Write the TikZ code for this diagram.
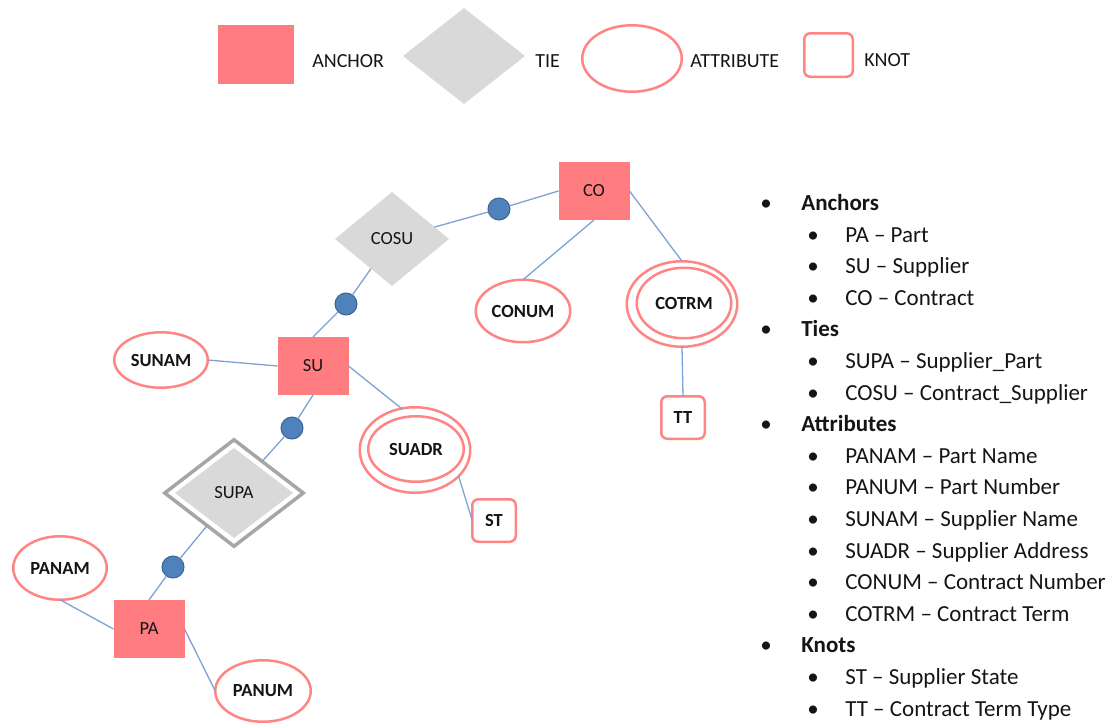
\documentclass[tikz,border=0pt]{standalone}
\usepackage{fontspec}
\setmainfont{Carlito}
\usetikzlibrary{shapes.geometric}
\definecolor{anchorfill}{HTML}{FF7C80}
\definecolor{tiefill}{HTML}{D9D9D9}
\definecolor{attrline}{HTML}{FF8585}
\definecolor{linkblue}{HTML}{7DA2D3}
\definecolor{dotblue}{HTML}{4F81BD}
\definecolor{dotedge}{HTML}{3B6592}
\definecolor{supagray}{HTML}{A6A6A6}
\definecolor{ink}{HTML}{151515}
\begin{document}
\begin{tikzpicture}[x=1pt,y=-1pt,
  every node/.style={outer sep=0pt,text=ink},
  lbl/.style={font=\fontsize{18.5}{20}\selectfont},
  blbl/.style={font=\bfseries\fontsize{18.5}{20}\selectfont},
  anchorbox/.style={rectangle,fill=anchorfill,minimum width=71pt,minimum height=58pt,inner sep=0pt,lbl},
  tiebox/.style={diamond,fill=tiefill,inner sep=0pt,lbl},
  attr/.style={ellipse,draw=attrline,line width=2.5pt,fill=white,inner sep=0pt,blbl},
  knotbox/.style={rectangle,rounded corners=6pt,draw=attrline,line width=2.5pt,fill=white,minimum width=43.5pt,minimum height=42.5pt,inner sep=0pt,blbl},
  link/.style={draw=linkblue,line width=1.3pt},
  dot/.style={circle,fill=dotblue,draw=dotedge,line width=1pt,minimum size=22pt,inner sep=0pt},
  legtext/.style={anchor=west,font=\fontsize{20}{22}\selectfont},
  head/.style={anchor=base west,font=\bfseries\fontsize{23}{25}\selectfont},
  item/.style={anchor=base west,font=\fontsize{23}{25}\selectfont},
  bul/.style={anchor=base,font=\fontsize{23}{25}\selectfont},
]
\useasboundingbox (0,0) rectangle (1114,723);

% ---------- legend ----------
\node[anchorbox,minimum width=76pt,minimum height=59pt] (lga) at (256,54.5) {};
\node[legtext] (lgat) at (309,61) {ANCHOR};
\node[tiebox,minimum width=122pt,minimum height=96pt] (lgt) at (464,56) {};
\node[legtext] (lgtt) at (532,61) {TIE};
\node[attr,minimum width=99.5pt,minimum height=66.5pt] (lge) at (632,58.5) {};
\node[legtext] (lget) at (687,61) {ATTRIBUTE};
\node[knotbox,minimum width=48.5pt,minimum height=43.5pt] (lgk) at (828.5,55) {};
\node[legtext] (lgkt) at (861,60) {KNOT};

% ---------- anchors ----------
\node[anchorbox] (co) at (594,191) {CO};
\node[anchorbox] (su) at (313,366) {SU};
\node[anchorbox] (pa) at (149,629) {PA};

% ---------- ties ----------
\node[tiebox,minimum width=114pt,minimum height=94pt] (cosu) at (392,239) {COSU};
\node[diamond,draw=supagray,line width=3.5pt,fill=white,inner sep=0pt,minimum width=138.5pt,minimum height=106.5pt] (supa) at (234,493) {};
\node[tiebox,minimum width=118pt,minimum height=90pt] (supai) at (234,493) {SUPA};

% ---------- attributes ----------
\node[attr,minimum width=94.5pt,minimum height=62.5pt] (conum) at (523,311) {CONUM};
\node[attr,minimum width=93.5pt,minimum height=55.5pt] (sunam) at (161,360) {SUNAM};
\node[attr,minimum width=93.5pt,minimum height=63.5pt] (panam) at (60,568) {PANAM};
\node[attr,minimum width=95.5pt,minimum height=61.5pt] (panum) at (263,691) {PANUM};
\node[attr,minimum width=110.5pt,minimum height=85.5pt] (cotrm) at (682,304) {};
\node[attr,minimum width=94.5pt,minimum height=70.5pt] (cotrmi) at (684,303) {COTRM};
\node[attr,minimum width=110.5pt,minimum height=85.5pt] (suadr) at (415,450) {};
\node[attr,minimum width=95.5pt,minimum height=65.5pt] (suadri) at (416,449) {SUADR};

% ---------- knots ----------
\node[knotbox] (tt) at (683,417.5) {TT};
\node[knotbox] (st) at (494,520.5) {ST};

% ---------- anchor dots ----------
\node[dot] (d1) at (499,209) {};
\node[dot] (d2) at (346,304) {};
\node[dot] (d3) at (292,428) {};
\node[dot] (d4) at (173,567) {};

% ---------- connectors ----------
\draw[link] (cosu) -- (d1) -- (co.west);
\draw[link] (cosu) -- (d2) -- (su.north);
\draw[link] (su.south) -- (d3) -- (supa);
\draw[link] (supa) -- (d4) -- (pa.north);
\draw[link] (co.south) -- (conum.north);
\draw[link] (co.east) -- (cotrm.north);
\draw[link] (cotrm.south) -- (tt.north);
\draw[link] (sunam.east) -- (su.west);
\draw[link] (su.east) -- (suadr.108);
\draw[link] (suadr.-31) -- (st.west);
\draw[link] (pa.west) -- (panam.south);
\draw[link] (pa.east) -- (panum.west);

% ---------- list ----------
\node[bul] (b1) at (766,210.5) {•};
\node[head] (t1) at (798,210.5) {Anchors};
\node[bul] (b2) at (813,242.1) {•};
\node[item] (t2) at (842,242.1) {PA – Part};
\node[bul] (b3) at (813,273.7) {•};
\node[item] (t3) at (842,273.7) {SU – Supplier};
\node[bul] (b4) at (813,305.3) {•};
\node[item] (t4) at (842,305.3) {CO – Contract};
\node[bul] (b5) at (766,336.9) {•};
\node[head] (t5) at (798,336.9) {Ties};
\node[bul] (b6) at (813,368.5) {•};
\node[item] (t6) at (842,368.5) {SUPA – Supplier\_Part};
\node[bul] (b7) at (813,400.1) {•};
\node[item] (t7) at (842,400.1) {COSU – Contract\_Supplier};
\node[bul] (b8) at (766,431.7) {•};
\node[head] (t8) at (798,431.7) {Attributes};
\node[bul] (b9) at (813,463.3) {•};
\node[item] (t9) at (842,463.3) {PANAM – Part Name};
\node[bul] (b10) at (813,494.9) {•};
\node[item] (t10) at (842,494.9) {PANUM – Part Number};
\node[bul] (b11) at (813,526.5) {•};
\node[item] (t11) at (842,526.5) {SUNAM – Supplier Name};
\node[bul] (b12) at (813,558.1) {•};
\node[item] (t12) at (842,558.1) {SUADR – Supplier Address};
\node[bul] (b13) at (813,589.7) {•};
\node[item] (t13) at (842,589.7) {CONUM – Contract Number};
\node[bul] (b14) at (813,621.3) {•};
\node[item] (t14) at (842,621.3) {COTRM – Contract Term};
\node[bul] (b15) at (766,652.9) {•};
\node[head] (t15) at (798,652.9) {Knots};
\node[bul] (b16) at (813,684.5) {•};
\node[item] (t16) at (842,684.5) {ST – Supplier State};
\node[bul] (b17) at (813,716.1) {•};
\node[item] (t17) at (842,716.1) {TT – Contract Term Type};
\end{tikzpicture}
\end{document}
